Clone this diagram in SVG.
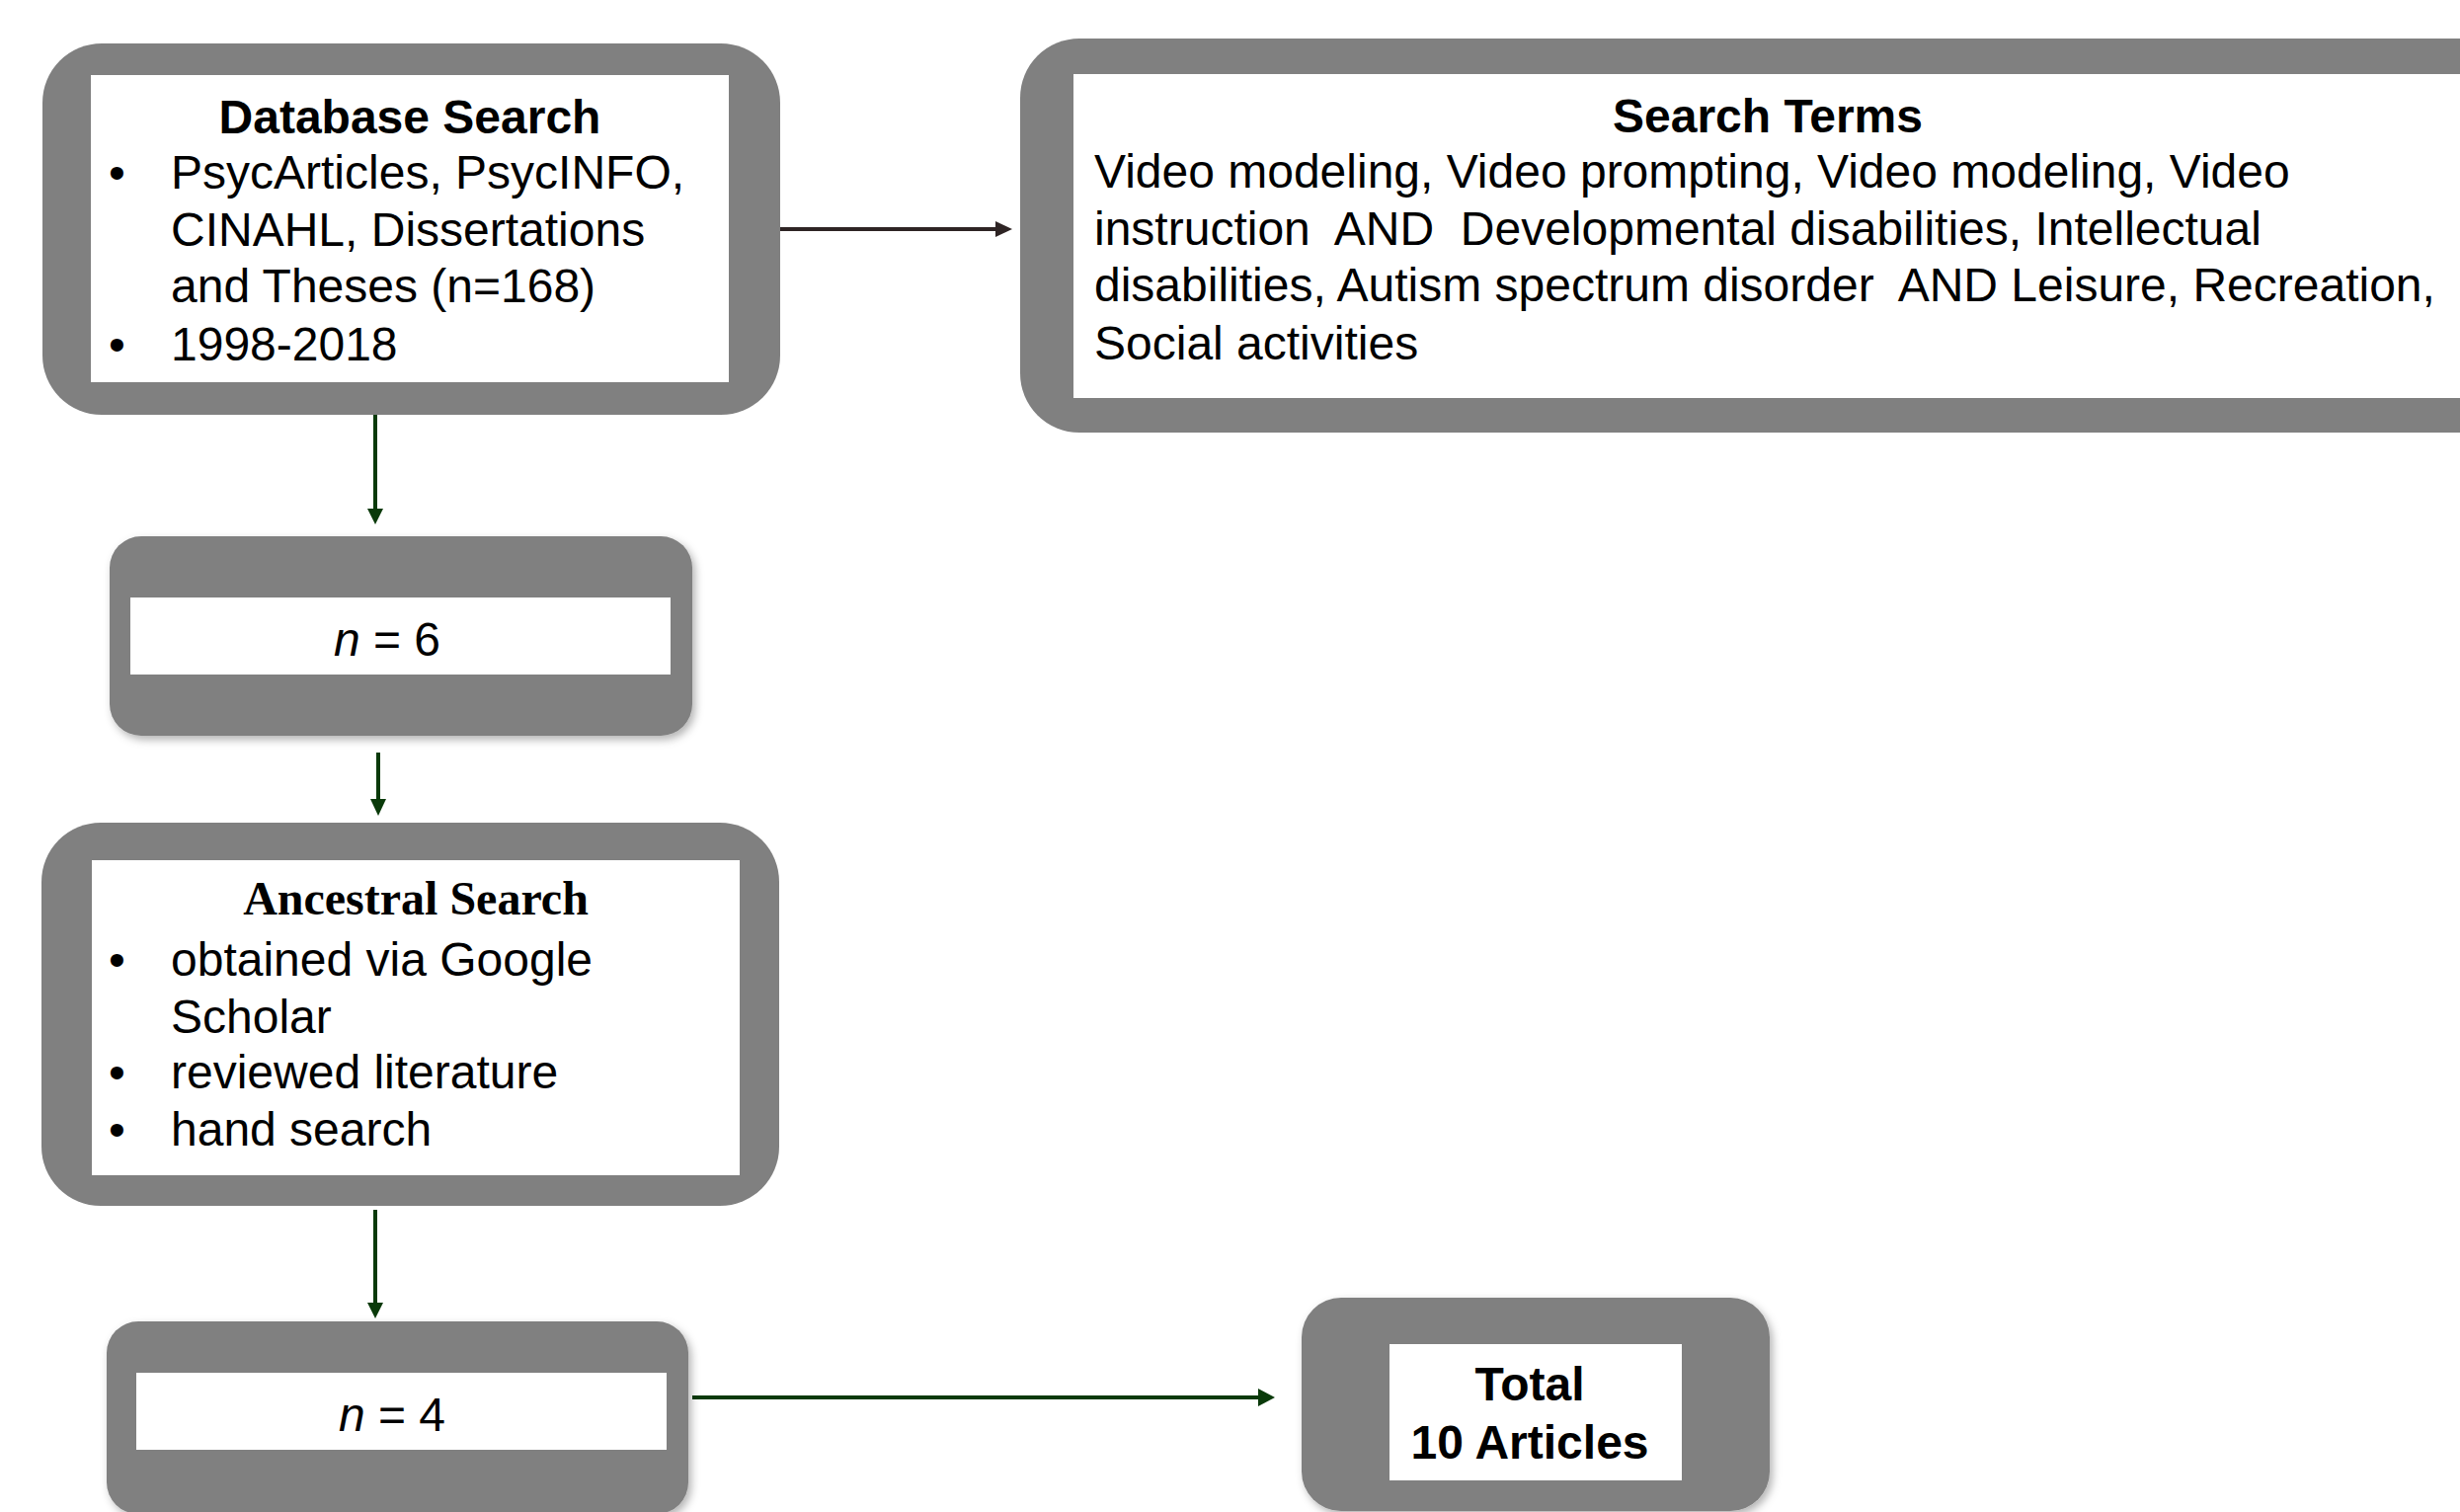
<svg xmlns="http://www.w3.org/2000/svg" width="2491" height="1531" viewBox="0 0 2491 1531">
<defs>
<style>
.frame{fill:#808080}
.inner{fill:#ffffff}
.t{font-family:"Liberation Sans",Arial,sans-serif;font-size:48px;fill:#000;white-space:pre}
.b{font-weight:bold}
.c{text-anchor:middle}
.serif{font-family:"Liberation Serif","Times New Roman",serif;font-weight:bold}
.lnk{stroke:#0a3a0a;stroke-width:4;fill:none}
.hd{fill:#0a3a0a}
</style>
<filter id="sh" x="-5%" y="-5%" width="112%" height="115%">
<feDropShadow dx="3" dy="4" stdDeviation="4" flood-color="#000" flood-opacity="0.3"/>
</filter>
</defs>
<rect width="2491" height="1531" fill="#ffffff"/>

<g id="connectors">
<line x1="790" y1="232" x2="1010" y2="232" stroke="#2e2424" stroke-width="4"/>
<polygon points="1008,224 1025,232 1008,240" fill="#2e2424"/>
<line class="lnk" x1="380" y1="420" x2="380" y2="516"/>
<polygon class="hd" points="372,515 380,531 388,515"/>
<line class="lnk" x1="383" y1="762" x2="383" y2="810"/>
<polygon class="hd" points="375,809 383,826 391,809"/>
<line class="lnk" x1="380" y1="1225" x2="380" y2="1320"/>
<polygon class="hd" points="372,1319 380,1335 388,1319"/>
<line class="lnk" x1="701" y1="1415" x2="1276" y2="1415" stroke-width="5"/>
<polygon class="hd" points="1274,1406 1291,1415 1274,1424"/>
</g>

<g id="database-search">
<rect class="frame" x="43" y="44" width="747" height="376" rx="60"/>
<rect class="inner" x="92" y="76" width="646" height="311"/>
<text class="t b c" x="415" y="135">Database Search</text>
<text class="t" x="110" y="191">•</text>
<text class="t" x="173" y="191">PsycArticles, PsycINFO,</text>
<text class="t" x="173" y="249">CINAHL, Dissertations</text>
<text class="t" x="173" y="306">and Theses (n=168)</text>
<text class="t" x="110" y="365">•</text>
<text class="t" x="173" y="365">1998-2018</text>
</g>

<g id="search-terms">
<rect class="frame" x="1033" y="39" width="1560" height="399" rx="60"/>
<rect class="inner" x="1087" y="75" width="1500" height="328"/>
<text class="t b c" x="1790" y="134">Search Terms</text>
<text class="t" x="1108" y="190">Video modeling, Video prompting, Video modeling, Video</text>
<text class="t" x="1108" y="248">instruction  AND  Developmental disabilities, Intellectual</text>
<text class="t" x="1108" y="305">disabilities, Autism spectrum disorder  AND Leisure, Recreation,</text>
<text class="t" x="1108" y="364">Social activities</text>
</g>

<g id="n6">
<rect class="frame" x="111" y="543" width="590" height="202" rx="32" filter="url(#sh)"/>
<rect class="inner" x="132" y="605" width="547" height="78"/>
<text class="t c" x="392" y="664"><tspan font-style="italic">n</tspan> = 6</text>
</g>

<g id="ancestral-search">
<rect class="frame" x="42" y="833" width="747" height="388" rx="60"/>
<rect class="inner" x="93" y="871" width="656" height="319"/>
<text class="t serif c" x="421" y="926">Ancestral Search</text>
<text class="t" x="110" y="988">•</text>
<text class="t" x="173" y="988">obtained via Google</text>
<text class="t" x="173" y="1046">Scholar</text>
<text class="t" x="110" y="1102">•</text>
<text class="t" x="173" y="1102">reviewed literature</text>
<text class="t" x="110" y="1160">•</text>
<text class="t" x="173" y="1160">hand search</text>
</g>

<g id="n4">
<rect class="frame" x="108" y="1338" width="589" height="195" rx="32" filter="url(#sh)"/>
<rect class="inner" x="138" y="1390" width="537" height="78"/>
<text class="t c" x="397" y="1449"><tspan font-style="italic">n</tspan> = 4</text>
</g>

<g id="total">
<rect class="frame" x="1318" y="1314" width="474" height="216" rx="40" filter="url(#sh)"/>
<rect class="inner" x="1407" y="1361" width="296" height="138"/>
<text class="t b c" x="1549" y="1418">Total</text>
<text class="t b c" x="1549" y="1477">10 Articles</text>
</g>
</svg>
